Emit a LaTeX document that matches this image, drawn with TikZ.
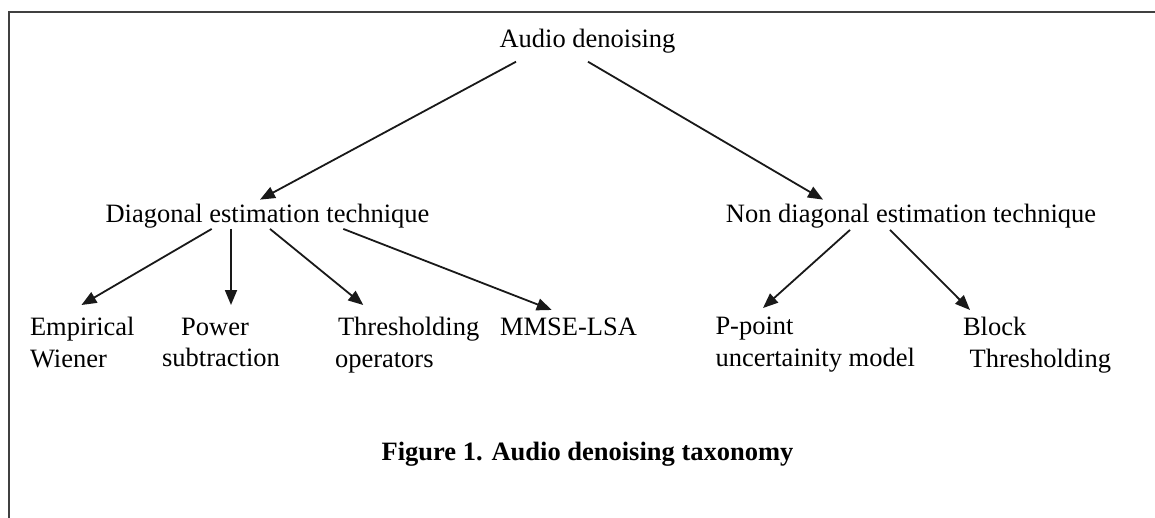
\documentclass[tikz,border=0pt]{standalone}
\usepackage{fontspec}
\setmainfont{Liberation Serif}
\usetikzlibrary{arrows.meta}
\begin{document}
\begin{tikzpicture}[x=1pt,y=-1pt,
  txt/.style={inner sep=0pt, outer sep=0pt, text=black, font=\fontsize{26.5}{31.5}\selectfont},
  captxt/.style={txt, font=\fontsize{26.5}{31.5}\selectfont\bfseries},
  arr/.style={draw=black!90, line width=1.8pt, -{Triangle[length=15pt,width=12pt]}},
  framestyle/.style={draw=black!75, line width=2.4pt}]
\useasboundingbox[fill=white] (0,0) rectangle (1155,517);
\draw[framestyle] (9,520) -- (9,12) -- (1160,12);

% nodes
\node[txt, anchor=base] (audio) at (587.5,47) {Audio denoising};
\node[txt, anchor=base] (diag) at (267.5,222) {Diagonal estimation technique};
\node[txt, anchor=base] (nondiag) at (911,222) {Non diagonal estimation technique};

\node[txt, anchor=north west, align=left] (emp) at (30,317.4) {Empirical\\Wiener};
\node[txt, anchor=north, align=center] (pow) at (221,318) {Power\hspace*{12pt}\\subtraction};
\node[txt, anchor=north west, align=left] (thr) at (335,317.4) {\hspace*{3pt}Thresholding\\operators};
\node[txt, anchor=base west] (mmse) at (500,335.5) {MMSE-LSA};
\node[txt, anchor=north west, align=left] (pp) at (715.5,317.4) {P-point\\uncertainity model};
\node[txt, anchor=north west, align=left] (blk) at (963,317.4) {Block\\\hspace*{6.7pt}Thresholding};

\node[captxt, anchor=base] (caption) at (587.5,460) {Figure 1. Audio denoising taxonomy};

% connectors
\draw[arr] ([xshift=-71.5pt,yshift=-9pt]audio.south) -- ([xshift=-7.5pt,yshift=4pt]diag.north);
\draw[arr] ([xshift=0.5pt,yshift=-9pt]audio.south) -- ([xshift=-88pt,yshift=4pt]nondiag.north);

\draw[arr] ([xshift=-55.8pt,yshift=-1.2pt]diag.south) -- ([xshift=-0.8pt,yshift=12.4pt]emp.north);
\draw[arr] ([xshift=-36.5pt,yshift=-1.2pt]diag.south) -- ([xshift=10pt,yshift=13pt]pow.north);
\draw[arr] ([xshift=2.5pt,yshift=-1.2pt]diag.south) -- ([xshift=28.3pt,yshift=12.4pt]thr.north west);
\draw[arr] ([xshift=75.8pt,yshift=-1.2pt]diag.south) -- ([xshift=51.7pt,yshift=8pt]mmse.north west);

\draw[arr] ([xshift=-61pt,yshift=-2.2pt]nondiag.south) -- ([xshift=47.5pt,yshift=9.4pt]pp.north west);
\draw[arr] ([xshift=-21pt,yshift=-2.2pt]nondiag.south) -- ([xshift=7pt,yshift=7.4pt]blk.north west);
\end{tikzpicture}
\end{document}
